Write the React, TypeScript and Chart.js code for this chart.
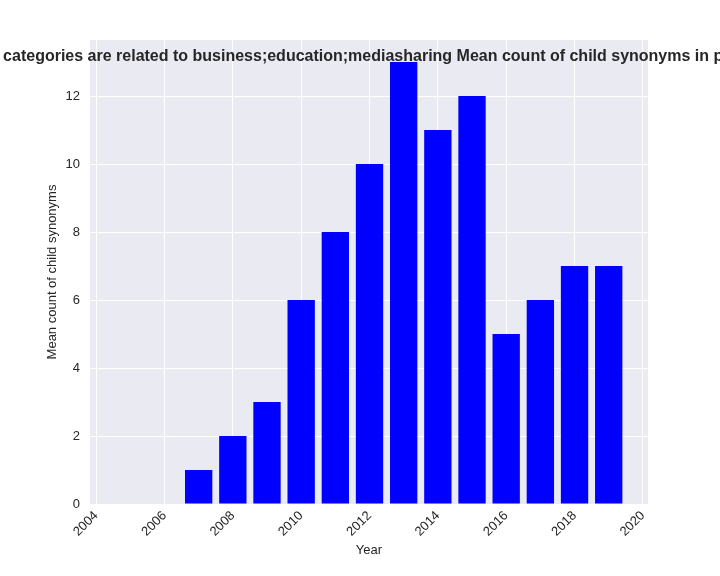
import {useEffect, useRef} from "react";
import {Chart, registerables} from "chart.js";

Chart.register(...registerables);

const years = [2007, 2008, 2009, 2010, 2011, 2012, 2013, 2014, 2015, 2016, 2017, 2018, 2019];
const meanCounts = [1, 2, 3, 6, 8, 10, 13, 11, 12, 5, 6, 7, 7];
const xTicks = [2004, 2006, 2008, 2010, 2012, 2014, 2016, 2018, 2020];
const yTicks = [0, 2, 4, 6, 8, 10, 12];
const titleText = "Apps whose categories are related to business;education;mediasharing Mean count of child synonyms in privacy policies";

const bgPlugin = {
  id: "bg",
  beforeDraw(chart: any) {
    const {ctx, chartArea: a} = chart;
    ctx.save();
    ctx.fillStyle = "#eaeaf2";
    ctx.fillRect(a.left, a.top, a.right - a.left, a.bottom - a.top);
    ctx.restore();
  },
  afterDraw(chart: any) {
    const {ctx, chartArea: a} = chart;
    ctx.save();
    ctx.fillStyle = "#262626";
    ctx.font = "bold 16px 'Liberation Sans', Arial, sans-serif";
    ctx.textAlign = "center";
    ctx.textBaseline = "middle";
    ctx.fillText(titleText, (a.left + a.right) / 2, 57);
    ctx.restore();
  },
};

export default function App() {
  const canvas = useRef<HTMLCanvasElement | null>(null);

  useEffect(() => {
    document.body.style.margin = "0";
    const tickFont = {family: "'Liberation Sans', Arial, sans-serif", size: 13};
    const chart = new Chart(canvas.current!, {
      type: "bar",
      data: {
        datasets: [{
          data: years.map((y, i) => ({x: y, y: meanCounts[i]})),
          backgroundColor: "#0000ff",
          barPercentage: 0.8,
          categoryPercentage: 1,
        }],
      },
      options: {
        animation: false,
        responsive: false,
        layout: {padding: {top: 40, right: 72, left: 45, bottom: 18}},
        plugins: {legend: {display: false}, tooltip: {enabled: false}},
        scales: {
          x: {
            type: "linear",
            offset: false,
            min: 2003.82,
            max: 2020.15,
            afterBuildTicks: (s: any) => { s.ticks = xTicks.map(v => ({value: v})); },
            afterFit: (s: any) => { s.height = 54; },
            grid: {color: "#ffffff", drawTicks: false, lineWidth: 1, offset: false},
            border: {display: false},
            ticks: {color: "#262626", font: tickFont, maxRotation: 45, minRotation: 45, padding: 4, callback: (v: any) => String(v)},
            title: {display: true, text: "Year", color: "#262626", font: tickFont, padding: 0},
          },
          y: {
            min: 0,
            max: 13.65,
            afterBuildTicks: (s: any) => { s.ticks = yTicks.map(v => ({value: v})); },
            afterFit: (s: any) => { s.width = 45; },
            grid: {color: "#ffffff", drawTicks: false, lineWidth: 1},
            border: {display: false},
            ticks: {color: "#262626", font: tickFont, padding: 10},
            title: {display: true, text: "Mean count of child synonyms", color: "#262626", font: tickFont, padding: 0},
          },
        },
      },
      plugins: [bgPlugin],
    });
    return () => chart.destroy();
  }, []);

  return <canvas ref={canvas} width={720} height={576} style={{display: "block"}}></canvas>;
}
